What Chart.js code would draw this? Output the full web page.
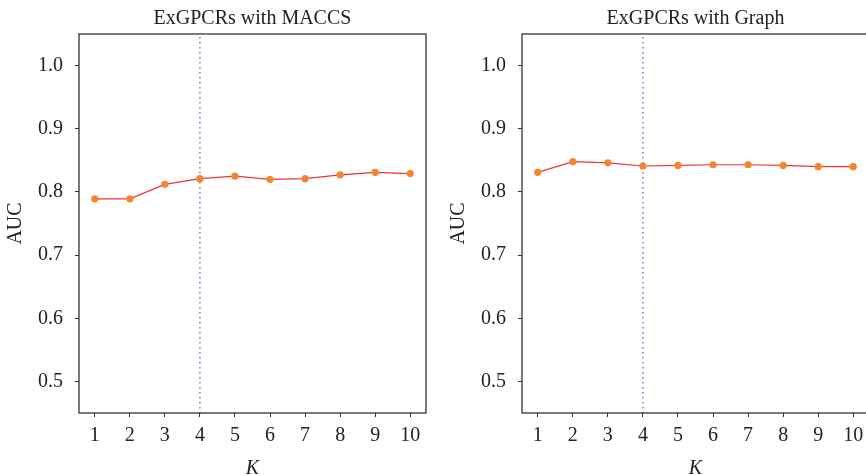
<!DOCTYPE html>
<html>
<head>
<meta charset="utf-8">
<script src="https://cdn.jsdelivr.net/npm/chart.js@4"></script>
<style>
  body { margin: 0; background: #fff; }
  #wrap { position: relative; width: 866px; height: 475px; overflow: hidden; }
  canvas { position: absolute; top: 0; }
</style>
</head>
<body>
<div id="wrap">
  <canvas id="maccs" width="440" height="475" style="left:0px"></canvas>
  <canvas id="graph" width="440" height="475" style="left:443px"></canvas>
</div>
<script>
const kValues = [1, 2, 3, 4, 5, 6, 7, 8, 9, 10];
const aucMaccs = [0.789, 0.789, 0.812, 0.821, 0.825, 0.820, 0.821, 0.827, 0.831, 0.829];
const aucGraph = [0.831, 0.848, 0.846, 0.841, 0.842, 0.843, 0.843, 0.842, 0.840, 0.840];
const yTicks = [0.5, 0.6, 0.7, 0.8, 0.9, 1.0];
const bestK = 4;

const serif = '"Liberation Serif", "DejaVu Serif", serif';

// box round the plot, dotted line at the chosen K, title centred on the plot
const frame = {
    id: 'frame',
    beforeDatasetsDraw(chart) {
        const {ctx, chartArea, scales} = chart;
        const x = scales.x.getPixelForValue(bestK);
        ctx.save();
        ctx.strokeStyle = '#6b7bd4';
        ctx.lineWidth = 1.5;
        ctx.setLineDash([1.5, 3.5]);
        ctx.beginPath();
        ctx.moveTo(x, chartArea.top + 3);
        ctx.lineTo(x, chartArea.bottom);
        ctx.stroke();
        ctx.restore();
    },
    afterDraw(chart, args, opts) {
        const {ctx, chartArea} = chart;
        ctx.save();
        ctx.strokeStyle = '#333';
        ctx.lineWidth = 1.3;
        ctx.strokeRect(chartArea.left, chartArea.top, chartArea.right - chartArea.left, chartArea.bottom - chartArea.top);
        ctx.fillStyle = '#222';
        ctx.font = '20px ' + serif;
        ctx.textAlign = 'center';
        ctx.textBaseline = 'alphabetic';
        ctx.fillText(opts.title, (chartArea.left + chartArea.right) / 2, 24);
        ctx.restore();
    }
};

function makeChart(id, title, values) {
    const ctx = document.getElementById(id).getContext('2d');
    return new Chart(ctx, {
        type: 'line',
        data: {
            datasets: [{
                data: kValues.map((k, i) => ({x: k, y: values[i]})),
                borderColor: '#ec3436',
                borderWidth: 1.2,
                backgroundColor: '#f5842e',
                pointBackgroundColor: '#f5842e',
                pointBorderWidth: 0,
                pointRadius: 3.6,
                tension: 0
            }]
        },
        options: {
            responsive: false,
            animation: false,
            layout: { padding: { left: 0, right: 14, top: 34, bottom: 0 } },
            plugins: {
                legend: { display: false },
                tooltip: { enabled: false },
                title: { display: false },
                frame: { title: title }
            },
            scales: {
                x: {
                    type: 'linear',
                    min: 0.55,
                    max: 10.45,
                    afterBuildTicks: s => { s.ticks = kValues.map(v => ({value: v})); },
                    afterFit: s => { s.height = 62; },
                    grid: { drawOnChartArea: false, drawTicks: true, tickLength: 4, tickColor: '#333' },
                    border: { display: false },
                    ticks: {
                        color: '#222',
                        padding: 7,
                        maxRotation: 0,
                        font: { family: serif, size: 20 },
                        callback: v => String(v)
                    },
                    title: {
                        display: true,
                        text: 'K',
                        color: '#222',
                        font: { family: serif, size: 20, style: 'italic', lineHeight: 0.62 },
                        padding: 0
                    }
                },
                y: {
                    min: 0.45,
                    max: 1.05,
                    afterBuildTicks: s => { s.ticks = yTicks.map(v => ({value: v})); },
                    afterFit: s => { s.width = 79; },
                    grid: { drawOnChartArea: false, drawTicks: true, tickLength: 4, tickColor: '#333' },
                    border: { display: false },
                    ticks: {
                        color: '#222',
                        padding: 12,
                        font: { family: serif, size: 20 },
                        callback: v => v.toFixed(1)
                    },
                    title: {
                        display: true,
                        text: 'AUC',
                        color: '#222',
                        font: { family: serif, size: 20, lineHeight: 1 },
                        padding: { top: 6, bottom: 0 }
                    }
                }
            }
        },
        plugins: [frame]
    });
}

makeChart('maccs', 'ExGPCRs with MACCS', aucMaccs);
makeChart('graph', 'ExGPCRs with Graph', aucGraph);
</script>
</body>
</html>
